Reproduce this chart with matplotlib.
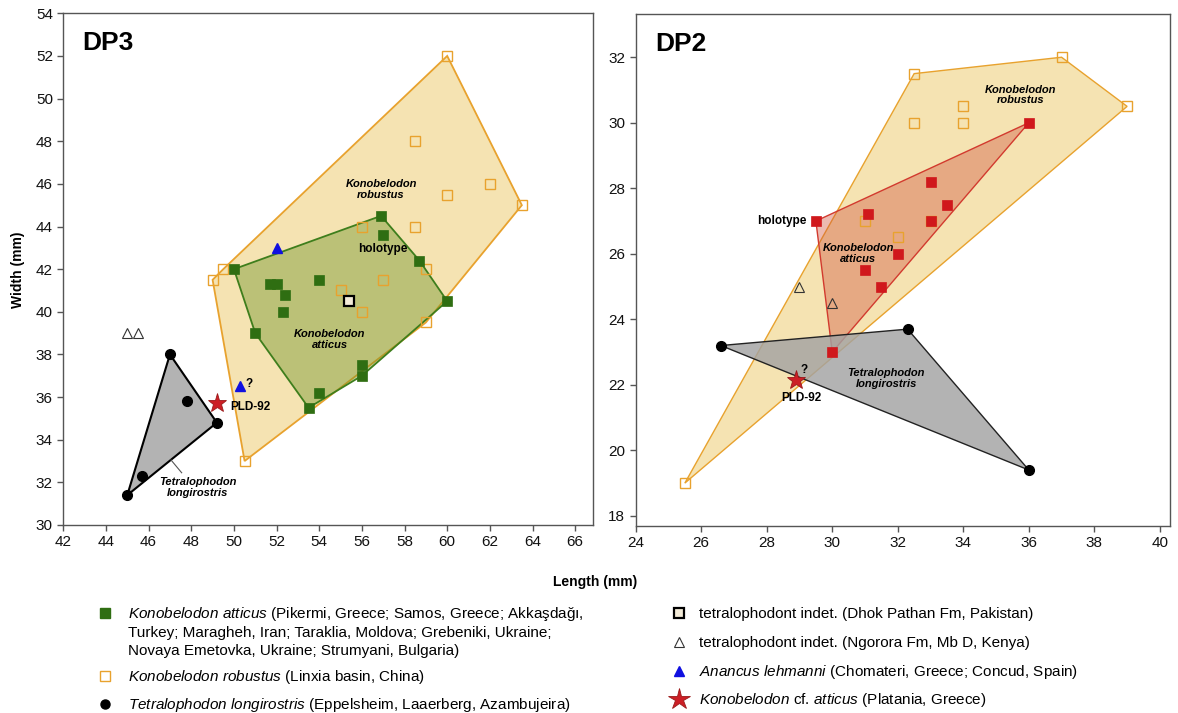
import matplotlib
matplotlib.use('Agg')
import matplotlib.pyplot as plt
import numpy as np

plt.rcParams['font.family'] = ['Liberation Sans', 'DejaVu Sans']
plt.rcParams['mathtext.fontset'] = 'custom'
plt.rcParams['mathtext.rm'] = 'Liberation Sans'
plt.rcParams['mathtext.it'] = 'Liberation Sans:italic'
plt.rcParams['mathtext.bf'] = 'Liberation Sans:bold'

# ---------------- DATA ----------------
# DP3
dp3_atticus_len = [56.9, 57.0, 58.7, 60.0, 50.0, 51.7, 52.0, 52.4, 54.0, 52.3, 51.0, 56.0, 56.0, 54.0, 53.5]
dp3_atticus_wid = [44.5, 43.6, 42.4, 40.5, 42.0, 41.3, 41.3, 40.8, 41.5, 40.0, 39.0, 37.5, 37.0, 36.2, 35.5]
dp3_robustus_len = [60.0, 58.5, 60.0, 62.0, 63.5, 56.0, 58.5, 49.0, 49.5, 55.0, 56.0, 57.0, 59.0, 59.0, 50.5]
dp3_robustus_wid = [52.0, 48.0, 45.5, 46.0, 45.0, 44.0, 44.0, 41.5, 42.0, 41.0, 40.0, 41.5, 42.0, 39.5, 33.0]
dp3_tetra_len = [47.0, 47.8, 49.2, 45.7, 45.0]
dp3_tetra_wid = [38.0, 35.8, 34.8, 32.3, 31.4]
dp3_dhok_len = [55.4]
dp3_dhok_wid = [40.5]
dp3_ngorora_len = [45.0, 45.5]
dp3_ngorora_wid = [39.0, 39.0]
dp3_anancus_len = [52.0, 50.3]
dp3_anancus_wid = [43.0, 36.5]
dp3_pld_len = [49.2]
dp3_pld_wid = [35.7]

# DP2
dp2_atticus_len = [29.5, 31.1, 32.0, 31.0, 36.0, 33.0, 33.5, 33.0, 31.5, 30.0]
dp2_atticus_wid = [27.0, 27.2, 26.0, 25.5, 30.0, 28.2, 27.5, 27.0, 25.0, 23.0]
dp2_robustus_len = [32.5, 37.0, 39.0, 34.0, 32.5, 34.0, 32.0, 31.0, 33.0, 25.5]
dp2_robustus_wid = [31.5, 32.0, 30.5, 30.5, 30.0, 30.0, 26.5, 27.0, 27.0, 19.0]
dp2_tetra_len = [26.6, 32.3, 36.0]
dp2_tetra_wid = [23.2, 23.7, 19.4]
dp2_ngorora_len = [29.0, 30.0]
dp2_ngorora_wid = [25.0, 24.5]
dp2_pld_len = [28.9]
dp2_pld_wid = [22.15]

dp3_xticks = list(range(42, 67, 2))
dp3_yticks = list(range(30, 55, 2))
dp2_xticks = list(range(24, 41, 2))
dp2_yticks = list(range(18, 33, 2))

# ---------------- STYLE ----------------
TAN = '#F5E3B2'
ORANGE = '#E8A22E'
GREEN = '#2F6E12'
GREEN_FILL = (0.40, 0.56, 0.12, 0.40)
RED = '#D0181C'
RED_FILL = (0.82, 0.33, 0.24, 0.40)
GRAY_FILL = (0.64, 0.64, 0.64, 0.82)
SPINE = '#555555'
STAR_FC = '#CC1F26'
STAR_EC = '#9A1A1A'


def convex_hull(xs, ys):
    pts = sorted(set(zip(xs, ys)))

    def cross(o, a, b):
        return (a[0] - o[0]) * (b[1] - o[1]) - (a[1] - o[1]) * (b[0] - o[0])

    lower = []
    for p in pts:
        while len(lower) >= 2 and cross(lower[-2], lower[-1], p) <= 0:
            lower.pop()
        lower.append(p)
    upper = []
    for p in reversed(pts):
        while len(upper) >= 2 and cross(upper[-2], upper[-1], p) <= 0:
            upper.pop()
        upper.append(p)
    h = np.array(lower[:-1] + upper[:-1])
    return h[:, 0], h[:, 1]


def style_axes(ax, xt, yt, xlim, ylim):
    ax.set_xlim(*xlim)
    ax.set_ylim(*ylim)
    ax.set_xticks(xt)
    ax.set_yticks(yt)
    for s in ax.spines.values():
        s.set_color(SPINE)
        s.set_linewidth(1.0)
    ax.tick_params(direction='out', length=4, width=1, color=SPINE,
                   labelsize=11, labelcolor='#111111')


W, H = 1178, 713
fig = plt.figure(figsize=(W / 100, H / 100), dpi=100)
ax1 = fig.add_axes([63.3 / W, 1 - 525 / H, (593.3 - 63.3) / W, (525 - 13.3) / H])
ax2 = fig.add_axes([635.7 / W, 1 - 525.7 / H, (1170 - 635.7) / W, (525.7 - 14) / H])

# ---------------- DP3 ----------------
hx, hy = convex_hull(dp3_robustus_len, dp3_robustus_wid)
ax1.fill(hx, hy, facecolor=TAN, edgecolor=ORANGE, lw=1.3, zorder=1)
hx, hy = convex_hull(dp3_atticus_len, dp3_atticus_wid)
ax1.fill(hx, hy, facecolor=GREEN_FILL, edgecolor='#3E7E1C', lw=1.3, zorder=2)
hx, hy = convex_hull(dp3_tetra_len, dp3_tetra_wid)
ax1.fill(hx, hy, facecolor=GRAY_FILL, edgecolor='black', lw=1.5, zorder=2)

ax1.plot(dp3_robustus_len, dp3_robustus_wid, 's', ms=6.8, mfc='none', mec=ORANGE, mew=1.0, zorder=3)
ax1.plot(dp3_atticus_len, dp3_atticus_wid, 's', ms=6.8, mfc=GREEN, mec=GREEN, mew=0.5, zorder=4)
ax1.plot(dp3_tetra_len, dp3_tetra_wid, 'o', ms=7, color='black', zorder=4)
ax1.plot(dp3_dhok_len, dp3_dhok_wid, 's', ms=6.8, mfc='#F3EBD8', mec='black', mew=1.6, zorder=4)
ax1.plot(dp3_ngorora_len, dp3_ngorora_wid, '^', ms=7, mfc='white', mec='#333333', mew=0.8, zorder=4)
ax1.plot(dp3_anancus_len, dp3_anancus_wid, '^', ms=6.5, color='#1010E0', zorder=4)
ax1.plot(dp3_pld_len, dp3_pld_wid, '*', ms=14, mfc=STAR_FC, mec=STAR_EC, mew=0.6, zorder=5)

ax1.text(0.035, 0.965, 'DP3', transform=ax1.transAxes, fontsize=19, fontweight='bold', va='top')
ax1.text(56.9, 45.75, 'Konobelodon\nrobustus', fontsize=8, fontweight='bold', style='italic',
         ha='center', va='center', linespacing=1.1, zorder=6)
ax1.text(57.0, 42.95, 'holotype', fontsize=8.5, fontweight='bold', ha='center', va='center', zorder=6)
ax1.text(54.5, 38.7, 'Konobelodon\natticus', fontsize=8, fontweight='bold', style='italic',
         ha='center', va='center', linespacing=1.1, zorder=6)
ax1.text(48.3, 31.75, 'Tetralophodon\nlongirostris', fontsize=8, fontweight='bold', style='italic',
         ha='center', va='center', linespacing=1.1, zorder=6)
ax1.plot([47.05, 47.55], [33.05, 32.45], color='#555555', lw=0.8, zorder=6)
ax1.text(50.55, 36.6, '?', fontsize=8.5, fontweight='bold', ha='left', va='center', zorder=6)
ax1.text(49.85, 35.55, 'PLD-92', fontsize=8.5, fontweight='bold', ha='left', va='center', zorder=6)

style_axes(ax1, dp3_xticks, dp3_yticks, (42, 66.85), (30, 54))

# ---------------- DP2 ----------------
hx, hy = convex_hull(dp2_robustus_len, dp2_robustus_wid)
ax2.fill(hx, hy, facecolor=TAN, edgecolor=ORANGE, lw=1.0, zorder=1)
hx, hy = convex_hull(dp2_atticus_len, dp2_atticus_wid)
ax2.fill(hx, hy, facecolor=RED_FILL, edgecolor='#D23A2E', lw=1.0, zorder=2)
hx, hy = convex_hull(dp2_tetra_len, dp2_tetra_wid)
ax2.fill(hx, hy, facecolor=GRAY_FILL, edgecolor='#222222', lw=1.0, zorder=2)

ax2.plot(dp2_robustus_len, dp2_robustus_wid, 's', ms=6.8, mfc='none', mec=ORANGE, mew=1.0, zorder=3)
ax2.plot(dp2_atticus_len, dp2_atticus_wid, 's', ms=6.8, mfc=RED, mec=RED, mew=0.5, zorder=4)
ax2.plot(dp2_tetra_len, dp2_tetra_wid, 'o', ms=7, color='black', zorder=4)
ax2.plot(dp2_ngorora_len, dp2_ngorora_wid, '^', ms=7, mfc='none', mec='#333333', mew=0.8, zorder=4)
ax2.plot(dp2_pld_len, dp2_pld_wid, '*', ms=14, mfc=STAR_FC, mec=STAR_EC, mew=0.6, zorder=5)

ax2.text(0.036, 0.965, 'DP2', transform=ax2.transAxes, fontsize=19, fontweight='bold', va='top')
ax2.text(35.75, 30.85, 'Konobelodon\nrobustus', fontsize=8, fontweight='bold', style='italic',
         ha='center', va='center', linespacing=1.1, zorder=6)
ax2.text(29.2, 27.0, 'holotype', fontsize=8.5, fontweight='bold', ha='right', va='center', zorder=6)
ax2.text(30.8, 26.0, 'Konobelodon\natticus', fontsize=8, fontweight='bold', style='italic',
         ha='center', va='center', linespacing=1.1, zorder=6)
ax2.text(31.65, 22.2, 'Tetralophodon\nlongirostris', fontsize=8, fontweight='bold', style='italic',
         ha='center', va='center', linespacing=1.1, zorder=6)
ax2.text(29.15, 22.45, '?', fontsize=8.5, fontweight='bold', ha='center', va='center', zorder=6)
ax2.text(29.05, 21.6, 'PLD-92', fontsize=8.5, fontweight='bold', ha='center', va='center', zorder=6)

style_axes(ax2, dp2_xticks, dp2_yticks, (24, 40.31), (17.7, 33.32))

# ---------------- axis labels ----------------
fig.text(595 / W, 1 - 582 / H, 'Length (mm)', fontsize=10, fontweight='bold', ha='center', va='center')
fig.text(18 / W, 1 - 270 / H, 'Width (mm)', fontsize=10, fontweight='bold', ha='center', va='center',
         rotation=90)

# ---------------- legend ----------------
lax = fig.add_axes([0, 0, 1, 1], facecolor='none')
lax.set_xlim(0, W)
lax.set_ylim(H, 0)
lax.axis('off')

FS = 11
BASE = 5.2  # baseline offset below marker centre (px)
LINE = 18.6  # line spacing (px)

left_entries = [
    ('s', dict(ms=7, mfc=GREEN, mec=GREEN), 613,
     [r'$\it{Konobelodon\ atticus}$ (Pikermi, Greece; Samos, Greece; Akkaşdağı,',
      'Turkey; Maragheh, Iran; Taraklia, Moldova; Grebeniki, Ukraine;',
      'Novaya Emetovka, Ukraine; Strumyani, Bulgaria)']),
    ('s', dict(ms=7, mfc='none', mec=ORANGE, mew=1.0), 676,
     [r'$\it{Konobelodon\ robustus}$ (Linxia basin, China)']),
    ('o', dict(ms=6.5, color='black'), 703.5,
     [r'$\it{Tetralophodon\ longirostris}$ (Eppelsheim, Laaerberg, Azambujeira)']),
]
for m, kw, y, lines in left_entries:
    lax.plot([105], [y], m, **kw)
    for i, ln in enumerate(lines):
        lax.text(127.5, y + BASE + i * LINE, ln, fontsize=FS, ha='left', va='baseline')

right_entries = [
    ('s', dict(ms=7, mfc='#F3EBD8', mec='black', mew=1.6), 613,
     'tetralophodont indet. (Dhok Pathan Fm, Pakistan)'),
    ('^', dict(ms=6.5, mfc='white', mec='#333333', mew=0.8), 642,
     'tetralophodont indet. (Ngorora Fm, Mb D, Kenya)'),
    ('^', dict(ms=6.5, color='#1010E0'), 671,
     r'$\it{Anancus\ lehmanni}$ (Chomateri, Greece; Concud, Spain)'),
    ('*', dict(ms=16, mfc=STAR_FC, mec=STAR_EC, mew=0.6), 699,
     r'$\it{Konobelodon}$ cf. $\it{atticus}$ (Platania, Greece)'),
]
for m, kw, y, lab in right_entries:
    lax.plot([679], [y], m, **kw)
    lax.text(699, y + BASE, lab, fontsize=FS, ha='left', va='baseline')

fig.savefig('out.png', dpi=100)
